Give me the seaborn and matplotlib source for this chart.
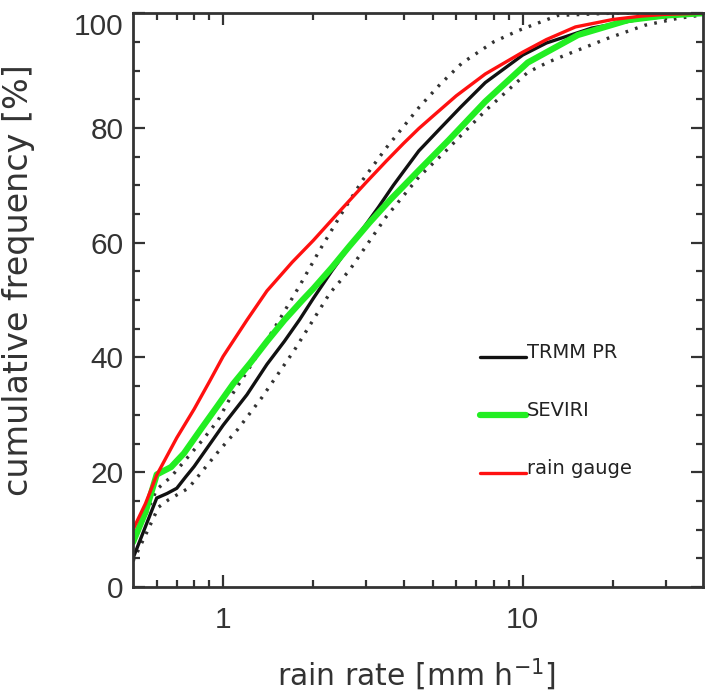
import numpy as np
import pandas as pd
import matplotlib
matplotlib.use("Agg")
import matplotlib.pyplot as plt
import seaborn as sns
from matplotlib.lines import Line2D
from matplotlib.legend_handler import HandlerLine2D
from matplotlib.ticker import FixedLocator, NullFormatter

# ---------------- data ----------------
gauge_x = [0.5, 0.55, 0.6, 0.7, 0.8, 0.9, 1.0, 1.2, 1.4, 1.7, 2.0, 2.5, 3.0,
           3.5, 4.0, 4.5, 5.0, 6.0, 7.5, 10, 12, 15, 20, 25, 30, 40]
gauge_y = [10, 14.5, 19.5, 26, 31, 35.8, 40.2, 46.5, 51.6, 56.6, 60.4, 66.0, 70.5,
           74.2, 77.3, 79.9, 82.0, 85.6, 89.4, 93.2, 95.4, 97.6, 98.9, 99.5, 99.8, 100]

trmm_x = [0.5, 0.55, 0.6, 0.65, 0.7, 0.75, 0.8, 0.9, 1.0, 1.2, 1.4, 1.6, 1.8,
          2.0, 2.3, 2.64, 3.0, 3.3, 3.7, 4.0, 4.5, 5.3, 6.2, 7.5, 10, 12, 17,
          25, 30, 40]
trmm_y = [5, 10.5, 15.5, 16.3, 17.2, 19.2, 21.0, 24.8, 28.2, 33.5, 38.8, 42.8, 46.6,
          50.3, 55, 59.3, 63.2, 66.2, 70.0, 72.4, 76.0, 79.9, 83.6, 87.9, 92.7,
          94.8, 97.4, 99.0, 99.4, 100]

seviri_x = [0.5, 0.55, 0.6, 0.67, 0.74, 0.84, 0.95, 1.08, 1.23, 1.4, 1.6, 1.84,
            2.0, 2.3, 2.64, 3.08, 3.6, 4.5, 5.67, 7.5, 10.4, 15.3, 22.5, 30, 40]
seviri_y = [7.8, 13, 19.6, 20.9, 23.3, 27.4, 31.3, 35.4, 39.0, 42.8, 46.5, 50.0,
            52.0, 55.6, 59.4, 63.5, 67.4, 72.6, 77.9, 84.6, 91.4, 96.2, 98.8, 99.6, 100]

upper_x = [0.5, 0.55, 0.6, 0.67, 0.8, 0.85, 0.96, 1.07, 1.2, 1.49, 1.8, 2.1,
           2.5, 2.92, 3.5, 4.17, 4.51, 5.3, 6.27, 8.0, 9.7, 13.1, 20, 40]
upper_y = [8, 12.5, 17, 19.2, 23.9, 25.5, 29, 33.5, 37.5, 45.3, 52.5, 58.7,
           65.3, 70.9, 76.5, 81.4, 83.6, 87.6, 91.3, 95.0, 97.0, 99.6, 100, 100]

lower_x = [0.5, 0.55, 0.608, 0.657, 0.765, 0.96, 1.04, 1.12, 1.35, 1.73, 2.27,
           2.64, 3.5, 4.51, 5.54, 7.54, 10.4, 12.2, 14.2, 19.2, 25.6, 33, 40]
lower_y = [4.5, 9, 13.9, 15.2, 17.2, 23.5, 25.6, 27.5, 33.1, 41.3, 51.2,
           55.2, 64.5, 71.5, 76, 83.1, 89.7, 91.5, 92.9, 95.6, 97.9, 99.1, 99.7]

series_names = ["TRMM PR", "SEVIRI", "rain gauge"]
x_major = [1, 10]
x_major_labels = ["1", "10"]
x_minor = [0.6, 0.7, 0.8, 0.9, 2, 3, 4, 5, 6, 7, 8, 9, 20, 30]
y_major = [0, 20, 40, 60, 80, 100]
y_minor = [5, 10, 15, 25, 30, 35, 45, 50, 55, 65, 70, 75, 85, 90, 95]

# ---------------- style ----------------
sns.set_style("ticks")
plt.rcParams["font.family"] = ["DejaVu Sans"]
axis_col = "#333333"
c_trmm, c_sev, c_gauge = "#111111", "#22ee22", "#ff1010"

fig = plt.figure(figsize=(7.09, 6.93), dpi=100)
ax = fig.add_axes([0.1876, 0.153, 0.804, 0.828])

def df(x, y):
    return pd.DataFrame({"x": x, "y": y})

dot_style = dict(color="#333333", lw=2.4, linestyle=(0, (0.8, 2.2)),
                 dash_capstyle="butt")
common = dict(x="x", y="y", ax=ax, estimator=None, sort=False, legend=False)
sns.lineplot(data=df(upper_x, upper_y), **common, **dot_style)
sns.lineplot(data=df(lower_x, lower_y), **common, **dot_style)
sns.lineplot(data=df(trmm_x, trmm_y), **common, color=c_trmm, lw=2.4)
sns.lineplot(data=df(seviri_x, seviri_y), **common, color=c_sev, lw=4.5)
sns.lineplot(data=df(gauge_x, gauge_y), **common, color=c_gauge, lw=2.4)

ax.set_xscale("log")
ax.set_xlim(0.5, 40)
ax.set_ylim(0, 100)
ax.xaxis.set_major_locator(FixedLocator(x_major))
ax.set_xticklabels(x_major_labels)
ax.xaxis.set_minor_locator(FixedLocator(x_minor))
ax.xaxis.set_minor_formatter(NullFormatter())
ax.yaxis.set_major_locator(FixedLocator(y_major))
ax.set_yticklabels([str(v) for v in y_major])
ax.yaxis.set_minor_locator(FixedLocator(y_minor))

for s in ax.spines.values():
    s.set_linewidth(2.0)
    s.set_color(axis_col)
    s.set_visible(True)

ax.tick_params(which="both", direction="in", top=True, right=True,
               color=axis_col, width=1.6, labelcolor=axis_col)
ax.tick_params(which="major", length=8.5)
ax.tick_params(which="minor", length=5)
ax.tick_params(axis="x", which="major", pad=14)
ax.tick_params(axis="y", which="major", pad=7)
for t in ax.get_xticklabels() + ax.get_yticklabels():
    t.set_fontfamily("Liberation Sans")
    t.set_fontsize(21.5)
# top label sits just below the frame, as in the reference
ax.get_yticklabels()[-1].set_verticalalignment("top")

ax.set_xlabel("rain rate [mm h$^{-1}$]", fontsize=21.5, color=axis_col)
ax.set_ylabel("cumulative frequency [%]", fontsize=24, color=axis_col)
ax.xaxis.set_label_coords(0.498, -0.122)
ax.yaxis.set_label_coords(-0.172, 0.535)


class BaselineHandler(HandlerLine2D):
    """Draw the legend line at the text baseline instead of mid-height."""
    def create_artists(self, legend, orig_handle, xdescent, ydescent, width,
                       height, fontsize, trans):
        arts = super().create_artists(legend, orig_handle, xdescent, ydescent,
                                      width, height, fontsize, trans)
        for a in arts:
            if isinstance(a, Line2D):
                a.set_ydata(np.full(len(a.get_xdata()), height * 0.12))
        return arts


handles = [Line2D([], [], color=c_trmm, lw=2.4),
           Line2D([], [], color=c_sev, lw=4.5),
           Line2D([], [], color=c_gauge, lw=2.4)]
leg = ax.legend(handles, series_names, loc="upper left",
                bbox_to_anchor=(0.595, 0.438), frameon=False, fontsize=14,
                handlelength=2.35, handletextpad=0.05, labelspacing=2.0,
                borderaxespad=0,
                handler_map={Line2D: BaselineHandler()})
for t in leg.get_texts():
    t.set_color("#222222")

fig.savefig("out.png", dpi=100)
